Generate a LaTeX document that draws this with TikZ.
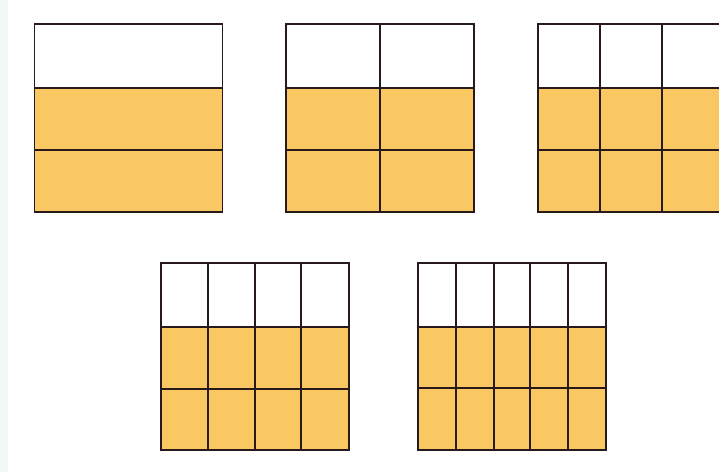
\documentclass[tikz,border=0pt]{standalone}
\usepackage{tikz}
\definecolor{fillor}{RGB}{250,200,98}
\definecolor{gline}{RGB}{40,26,26}
\definecolor{edgetint}{RGB}{244,248,244}
\tikzset{
  gridline/.style={draw=gline, line width=1.8pt, line cap=rect},
  shade/.style={fill=fillor}
}
% #1 left, #2 right, #3 top, #4 row1, #5 row2, #6 bottom, #7 list of inner column x's
\newcommand{\fracgrid}[7]{%
  \fill[shade] (#1,#4) rectangle (#2,#6);
  \foreach \cx in {#7} {\draw[gridline] (\cx,#3) -- (\cx,#6);}
  \draw[gridline] (#1,#4) -- (#2,#4);
  \draw[gridline] (#1,#5) -- (#2,#5);
  \draw[gridline] (#1,#3) rectangle (#2,#6);
}
\begin{document}
\begin{tikzpicture}[x=1pt,y=-1pt]
\useasboundingbox (0,0) rectangle (719,472);
\clip (0,0) rectangle (719,472);
\fill[white] (0,0) rectangle (719,472);
\fill[edgetint] (0,0) rectangle (8,472);
% top row
\fracgrid{34.5}{222.5}{24}{88.3}{150}{211.7}{}
\fracgrid{286}{474}{24}{88.3}{150}{211.7}{380}
\fracgrid{538}{724}{24}{88.3}{150}{211.7}{600,662}
% bottom row
\fracgrid{160.7}{348.7}{262.7}{327.3}{388.7}{450}{208.3,255,301}
\fracgrid{418}{606}{262.7}{326.7}{388.3}{450}{456,494.3,530,567.7}
\end{tikzpicture}
\end{document}
